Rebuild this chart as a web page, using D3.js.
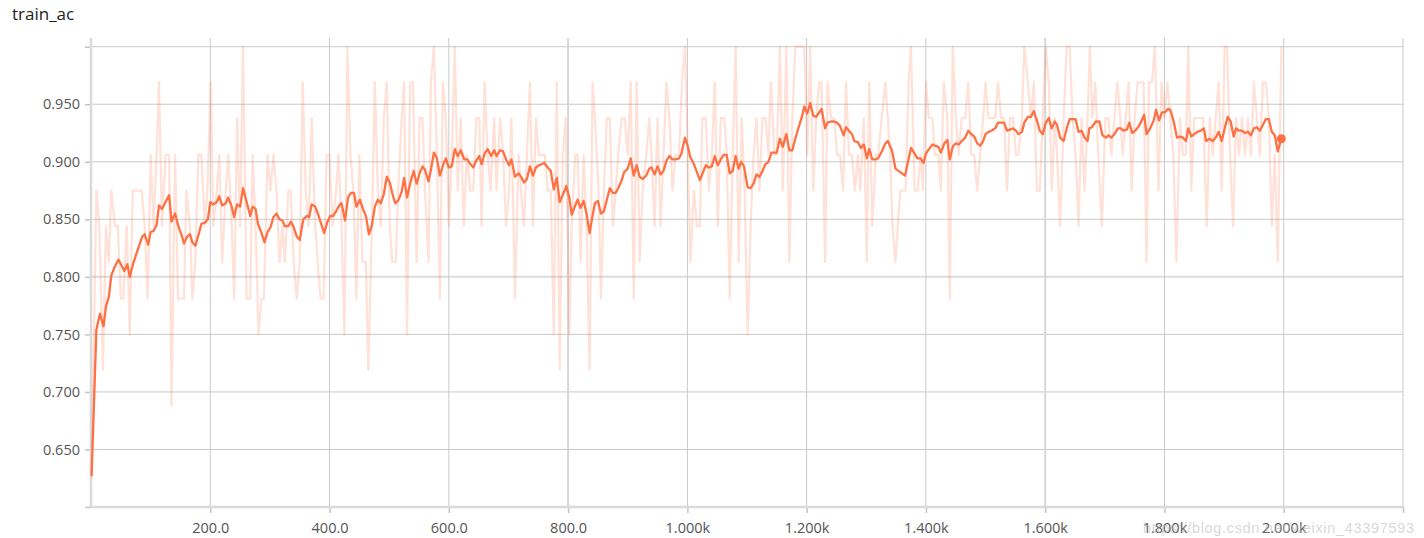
<!DOCTYPE html>
<html>
<head>
<meta charset="utf-8">
<script src="https://cdn.jsdelivr.net/npm/d3@7"></script>
<style>
    body { margin: 0; background: #fff; }
    #chart svg { display: block; }
</style>
</head>
<body>
<div id="chart"></div>
<script>
// Chart title and tick values
var chartTitle = "train_ac";
var watermark = "https://blog.csdn.net/weixin_43397593";
var yTicks = [0.6, 0.65, 0.7, 0.75, 0.8, 0.85, 0.9, 0.95, 1.0];
var yTickLabels = ["", "0.650", "0.700", "0.750", "0.800", "0.850", "0.900", "0.950", ""];
var xTicks = [200, 400, 600, 800, 1000, 1200, 1400, 1600, 1800, 2000, 2200];
var xTickLabels = ["200.0", "400.0", "600.0", "800.0", "1.000k", "1.200k", "1.400k", "1.600k", "1.800k", "2.000k", ""];

// Smoothed series, [step, value]
var smoothPoints = [
    [1, 0.627], [9, 0.754], [15, 0.768], [21, 0.757], [25, 0.774], [30, 0.783], [34, 0.801], [40, 0.809],
    [46, 0.815], [51, 0.810], [56, 0.805], [61, 0.811], [65, 0.800], [71, 0.812], [76, 0.820], [82, 0.829],
    [86, 0.835], [90, 0.837], [96, 0.828], [100, 0.839], [105, 0.840], [110, 0.845], [114, 0.862], [119, 0.859],
    [125, 0.865], [131, 0.871], [135, 0.848], [141, 0.855], [146, 0.845], [152, 0.836], [156, 0.829], [161, 0.835],
    [166, 0.837], [170, 0.830], [175, 0.827], [180, 0.836], [185, 0.846], [191, 0.847], [196, 0.850], [200, 0.865],
    [205, 0.863], [211, 0.865], [215, 0.870], [220, 0.862], [226, 0.864], [230, 0.869], [236, 0.861], [240, 0.852],
    [245, 0.863], [250, 0.861], [255, 0.877], [261, 0.865], [267, 0.853], [271, 0.861], [276, 0.859], [280, 0.846],
    [286, 0.838], [291, 0.830], [296, 0.839], [301, 0.843], [306, 0.852], [311, 0.855], [316, 0.850], [321, 0.849],
    [325, 0.844], [331, 0.844], [335, 0.848], [340, 0.843], [345, 0.835], [350, 0.832], [356, 0.850], [362, 0.853],
    [366, 0.852], [370, 0.863], [376, 0.861], [381, 0.854], [386, 0.846], [391, 0.838], [396, 0.847], [401, 0.853],
    [406, 0.853], [411, 0.857], [416, 0.862], [420, 0.864], [426, 0.849], [431, 0.869], [436, 0.873], [441, 0.873],
    [445, 0.861], [451, 0.867], [456, 0.859], [461, 0.853], [466, 0.837], [471, 0.845], [476, 0.861], [481, 0.867],
    [486, 0.864], [491, 0.872], [496, 0.887], [501, 0.882], [505, 0.873], [510, 0.864], [515, 0.866], [521, 0.874],
    [525, 0.886], [530, 0.869], [535, 0.881], [541, 0.892], [546, 0.881], [551, 0.890], [556, 0.896], [560, 0.893],
    [566, 0.883], [570, 0.893], [575, 0.908], [580, 0.903], [585, 0.888], [591, 0.898], [595, 0.903], [600, 0.895],
    [605, 0.896], [610, 0.911], [615, 0.905], [620, 0.910], [626, 0.902], [631, 0.902], [636, 0.898], [641, 0.895],
    [646, 0.901], [651, 0.905], [655, 0.898], [660, 0.907], [665, 0.911], [671, 0.905], [676, 0.910], [680, 0.905],
    [686, 0.910], [691, 0.909], [696, 0.902], [701, 0.897], [705, 0.902], [711, 0.887], [717, 0.890], [721, 0.887],
    [726, 0.882], [731, 0.885], [736, 0.896], [741, 0.888], [746, 0.895], [751, 0.897], [756, 0.898], [760, 0.899],
    [766, 0.895], [771, 0.892], [776, 0.876], [781, 0.886], [786, 0.865], [791, 0.871], [797, 0.879], [802, 0.869],
    [806, 0.854], [812, 0.862], [816, 0.867], [821, 0.860], [826, 0.866], [831, 0.855], [836, 0.838], [841, 0.853],
    [845, 0.864], [850, 0.866], [855, 0.855], [860, 0.857], [865, 0.867], [870, 0.877], [875, 0.873], [880, 0.873],
    [884, 0.877], [890, 0.884], [894, 0.891], [900, 0.894], [905, 0.903], [910, 0.888], [915, 0.897], [920, 0.887],
    [925, 0.885], [931, 0.888], [936, 0.894], [940, 0.895], [945, 0.889], [950, 0.896], [955, 0.889], [960, 0.892],
    [965, 0.901], [970, 0.905], [975, 0.902], [980, 0.902], [986, 0.903], [990, 0.907], [996, 0.921], [1000, 0.915],
    [1005, 0.904], [1011, 0.898], [1016, 0.891], [1021, 0.884], [1027, 0.892], [1031, 0.897], [1036, 0.895], [1041, 0.896],
    [1046, 0.905], [1051, 0.897], [1056, 0.902], [1061, 0.906], [1066, 0.906], [1071, 0.890], [1076, 0.892], [1081, 0.905],
    [1086, 0.894], [1090, 0.900], [1095, 0.896], [1101, 0.878], [1106, 0.877], [1111, 0.881], [1116, 0.889], [1121, 0.887],
    [1126, 0.892], [1131, 0.898], [1136, 0.900], [1141, 0.908], [1146, 0.908], [1150, 0.908], [1155, 0.920], [1160, 0.913],
    [1166, 0.924], [1171, 0.910], [1176, 0.910], [1181, 0.920], [1186, 0.929], [1192, 0.939], [1196, 0.948], [1201, 0.942],
    [1206, 0.951], [1211, 0.940], [1216, 0.939], [1221, 0.943], [1225, 0.946], [1231, 0.929], [1235, 0.934], [1241, 0.935],
    [1246, 0.935], [1251, 0.934], [1256, 0.931], [1262, 0.923], [1266, 0.930], [1271, 0.927], [1276, 0.924], [1280, 0.918],
    [1286, 0.917], [1291, 0.912], [1296, 0.915], [1301, 0.903], [1305, 0.911], [1310, 0.902], [1316, 0.902], [1320, 0.903],
    [1326, 0.909], [1332, 0.916], [1336, 0.918], [1343, 0.910], [1349, 0.894], [1357, 0.891], [1365, 0.888], [1375, 0.912],
    [1381, 0.907], [1386, 0.903], [1391, 0.903], [1396, 0.899], [1400, 0.907], [1405, 0.911], [1411, 0.915], [1415, 0.914],
    [1421, 0.913], [1425, 0.908], [1431, 0.916], [1436, 0.919], [1440, 0.902], [1445, 0.913], [1450, 0.916], [1455, 0.915],
    [1460, 0.918], [1466, 0.921], [1471, 0.927], [1476, 0.924], [1481, 0.922], [1486, 0.916], [1491, 0.914], [1496, 0.918],
    [1500, 0.924], [1505, 0.926], [1510, 0.927], [1516, 0.929], [1521, 0.934], [1525, 0.934], [1531, 0.934], [1536, 0.927],
    [1541, 0.928], [1546, 0.929], [1551, 0.927], [1555, 0.924], [1561, 0.926], [1565, 0.934], [1571, 0.939], [1576, 0.939],
    [1581, 0.944], [1586, 0.936], [1591, 0.927], [1596, 0.924], [1601, 0.934], [1606, 0.938], [1611, 0.929], [1616, 0.935],
    [1620, 0.932], [1625, 0.921], [1631, 0.918], [1636, 0.929], [1641, 0.937], [1646, 0.937], [1651, 0.937], [1656, 0.926],
    [1661, 0.927], [1666, 0.921], [1671, 0.918], [1674, 0.929], [1678, 0.930], [1685, 0.935], [1691, 0.935], [1696, 0.923],
    [1702, 0.921], [1706, 0.923], [1711, 0.921], [1716, 0.924], [1722, 0.929], [1727, 0.929], [1731, 0.927], [1737, 0.928],
    [1741, 0.934], [1746, 0.925], [1751, 0.927], [1757, 0.931], [1762, 0.936], [1766, 0.941], [1770, 0.924], [1776, 0.929],
    [1782, 0.936], [1786, 0.945], [1791, 0.936], [1796, 0.943], [1801, 0.943], [1806, 0.946], [1810, 0.945], [1815, 0.936],
    [1821, 0.921], [1826, 0.922], [1831, 0.921], [1836, 0.918], [1840, 0.929], [1845, 0.922], [1850, 0.924], [1855, 0.926],
    [1861, 0.927], [1866, 0.929], [1870, 0.918], [1875, 0.920], [1881, 0.918], [1886, 0.921], [1891, 0.926], [1896, 0.918],
    [1901, 0.929], [1906, 0.939], [1911, 0.935], [1916, 0.922], [1920, 0.929], [1925, 0.927], [1930, 0.927], [1935, 0.925],
    [1940, 0.926], [1945, 0.923], [1950, 0.929], [1955, 0.930], [1960, 0.927], [1965, 0.932], [1970, 0.937], [1975, 0.937],
    [1980, 0.926], [1985, 0.923], [1990, 0.909], [1996, 0.920]
];

// Raw series, [step, value]
var rawPoints = [
    [1, 0.625], [9, 0.875], [14, 0.844], [20, 0.719], [25, 0.844], [30, 0.813], [34, 0.875], [40, 0.844],
    [45, 0.844], [50, 0.781], [54, 0.781], [60, 0.844], [65, 0.750], [70, 0.875], [75, 0.875], [80, 0.875],
    [85, 0.875], [90, 0.844], [95, 0.781], [100, 0.906], [105, 0.844], [110, 0.906], [114, 0.969], [119, 0.844],
    [125, 0.906], [131, 0.906], [135, 0.688], [141, 0.906], [146, 0.781], [151, 0.781], [156, 0.781], [160, 0.875],
    [166, 0.844], [170, 0.781], [175, 0.813], [180, 0.906], [185, 0.906], [191, 0.844], [195, 0.875], [201, 0.969],
    [205, 0.844], [211, 0.875], [215, 0.906], [220, 0.813], [226, 0.875], [230, 0.906], [236, 0.844], [240, 0.781],
    [245, 0.938], [250, 0.844], [255, 1.000], [261, 0.781], [267, 0.781], [271, 0.906], [276, 0.844], [281, 0.750],
    [286, 0.781], [290, 0.781], [296, 0.906], [301, 0.875], [306, 0.906], [311, 0.875], [316, 0.813], [321, 0.844],
    [325, 0.813], [331, 0.875], [335, 0.875], [340, 0.813], [345, 0.781], [350, 0.813], [355, 0.969], [360, 0.875],
    [365, 0.844], [370, 0.938], [376, 0.844], [380, 0.813], [385, 0.781], [390, 0.781], [395, 0.906], [400, 0.906],
    [405, 0.844], [411, 0.875], [415, 0.906], [420, 0.844], [425, 0.750], [430, 1.000], [435, 0.906], [440, 0.875],
    [445, 0.781], [450, 0.906], [455, 0.813], [461, 0.813], [465, 0.719], [471, 0.844], [476, 0.969], [481, 0.875],
    [486, 0.844], [491, 0.938], [496, 0.969], [501, 0.844], [505, 0.813], [511, 0.813], [515, 0.875], [521, 0.938],
    [525, 0.969], [530, 0.750], [535, 0.969], [540, 0.969], [546, 0.813], [551, 0.938], [556, 0.938], [560, 0.875],
    [566, 0.813], [570, 0.969], [575, 1.000], [580, 0.906], [585, 0.781], [590, 0.969], [595, 0.938], [600, 0.844],
    [605, 0.906], [610, 1.000], [615, 0.875], [620, 0.938], [625, 0.844], [630, 0.906], [636, 0.875], [641, 0.875],
    [646, 0.938], [651, 0.938], [655, 0.844], [660, 0.969], [665, 0.906], [670, 0.875], [676, 0.938], [680, 0.875],
    [686, 0.938], [691, 0.906], [696, 0.844], [701, 0.875], [705, 0.938], [711, 0.781], [717, 0.906], [721, 0.875],
    [726, 0.844], [731, 0.906], [736, 0.969], [741, 0.844], [746, 0.938], [751, 0.906], [756, 0.906], [761, 0.906],
    [766, 0.875], [771, 0.875], [776, 0.750], [781, 0.969], [786, 0.719], [791, 0.906], [796, 0.938], [802, 0.750],
    [806, 0.844], [812, 0.906], [816, 0.906], [821, 0.813], [826, 0.906], [831, 0.844], [836, 0.719], [841, 0.969],
    [845, 0.938], [851, 0.875], [855, 0.781], [860, 0.875], [865, 0.938], [870, 0.938], [875, 0.844], [880, 0.875],
    [884, 0.906], [890, 0.938], [895, 0.938], [900, 0.906], [905, 0.969], [910, 0.781], [915, 0.969], [920, 0.813],
    [925, 0.875], [931, 0.906], [936, 0.938], [940, 0.906], [945, 0.844], [950, 0.938], [955, 0.844], [960, 0.906],
    [965, 0.969], [970, 0.938], [975, 0.875], [980, 0.906], [986, 0.906], [991, 0.969], [996, 1.000], [1001, 0.906],
    [1005, 0.813], [1011, 0.875], [1016, 0.844], [1021, 0.844], [1025, 0.938], [1031, 0.938], [1036, 0.875], [1041, 0.906],
    [1046, 0.969], [1051, 0.844], [1056, 0.938], [1062, 0.938], [1066, 0.906], [1071, 0.781], [1076, 0.906], [1081, 1.000],
    [1086, 0.813], [1091, 0.938], [1096, 0.875], [1101, 0.750], [1106, 0.844], [1111, 0.906], [1116, 0.938], [1121, 0.875],
    [1126, 0.938], [1131, 0.938], [1136, 0.906], [1140, 0.969], [1146, 0.906], [1150, 0.906], [1155, 1.000], [1160, 0.875],
    [1166, 1.000], [1171, 0.813], [1176, 0.938], [1181, 1.000], [1186, 1.000], [1191, 1.000], [1196, 1.000], [1201, 0.906],
    [1206, 1.000], [1211, 0.875], [1216, 0.938], [1221, 0.969], [1225, 0.969], [1231, 0.813], [1235, 0.969], [1241, 0.938],
    [1246, 0.938], [1251, 0.906], [1256, 0.906], [1261, 0.875], [1266, 0.969], [1271, 0.906], [1276, 0.906], [1281, 0.875],
    [1286, 0.906], [1290, 0.875], [1296, 0.938], [1301, 0.813], [1305, 0.969], [1310, 0.844], [1316, 0.906], [1320, 0.906],
    [1326, 0.938], [1332, 0.969], [1336, 0.938], [1340, 0.906], [1344, 0.844], [1349, 0.813], [1357, 0.875], [1362, 0.875],
    [1366, 0.875], [1371, 0.969], [1375, 1.000], [1381, 0.875], [1386, 0.875], [1391, 0.906], [1395, 0.875], [1400, 0.969],
    [1405, 0.938], [1411, 0.938], [1415, 0.906], [1421, 0.906], [1425, 0.875], [1430, 0.969], [1436, 0.938], [1440, 0.781],
    [1445, 1.000], [1450, 0.938], [1455, 0.906], [1460, 0.938], [1466, 0.938], [1471, 0.969], [1476, 0.906], [1481, 0.906],
    [1486, 0.875], [1491, 0.906], [1496, 0.938], [1500, 0.969], [1505, 0.938], [1510, 0.938], [1516, 0.938], [1521, 0.969],
    [1526, 0.938], [1531, 0.938], [1536, 0.875], [1541, 0.938], [1546, 0.938], [1551, 0.906], [1555, 0.906], [1561, 0.938],
    [1565, 1.000], [1571, 0.969], [1576, 0.938], [1581, 0.969], [1586, 0.875], [1591, 0.875], [1596, 0.938], [1601, 1.000],
    [1606, 0.969], [1611, 0.875], [1616, 0.938], [1620, 0.906], [1625, 0.844], [1631, 0.938], [1636, 1.000], [1641, 1.000],
    [1646, 0.938], [1651, 0.906], [1656, 0.844], [1661, 0.938], [1666, 0.875], [1671, 0.938], [1675, 1.000], [1679, 0.938],
    [1684, 0.969], [1689, 0.906], [1695, 0.844], [1701, 0.938], [1706, 0.938], [1711, 0.906], [1716, 0.938], [1721, 0.969],
    [1726, 0.938], [1730, 0.906], [1735, 0.938], [1740, 0.969], [1745, 0.875], [1750, 0.938], [1755, 0.969], [1760, 0.969],
    [1765, 0.969], [1770, 0.813], [1774, 0.969], [1779, 0.969], [1784, 1.000], [1790, 0.875], [1795, 0.969], [1800, 0.938],
    [1805, 0.969], [1810, 0.938], [1815, 0.906], [1820, 0.813], [1826, 0.938], [1831, 0.906], [1836, 0.906], [1840, 1.000],
    [1845, 0.875], [1850, 0.938], [1855, 0.938], [1860, 0.938], [1865, 0.938], [1871, 0.844], [1876, 0.938], [1881, 0.906],
    [1886, 0.938], [1891, 0.969], [1896, 0.875], [1901, 1.000], [1905, 1.000], [1910, 0.906], [1915, 0.844], [1920, 0.938],
    [1925, 0.906], [1930, 0.938], [1935, 0.906], [1940, 0.938], [1945, 0.906], [1950, 0.969], [1955, 0.938], [1960, 0.906],
    [1965, 0.969], [1970, 0.969], [1975, 0.938], [1980, 0.844], [1985, 0.906], [1990, 0.813], [1996, 1.000]
];

// Set chart dimensions
var width = 1424;
var height = 538;
var plot = { left: 91, right: 1403, top: 38, bottom: 507 };
var lineColor = "#ff7043";

var svg = d3.select("#chart").append("svg")
    .attr("width", width)
    .attr("height", height)
    .style("font-family", "'Open Sans', sans-serif");

// Create x and y scales
var xScale = d3.scaleLinear()
    .domain([0, 2200])
    .range([plot.left, plot.right]);

var yScale = d3.scaleLinear()
    .domain([0.6, 1.0])
    .range([plot.bottom, 46.7]);

// Title
svg.append("text")
    .attr("x", 12)
    .attr("y", 20)
    .style("font-size", "17px")
    .style("fill", "#212121")
    .text(chartTitle);

// Grid lines
svg.append("g")
    .attr("class", "grid-y")
    .selectAll("line")
    .data(yTicks.filter(d => d > 0.6))
    .enter().append("line")
    .attr("x1", plot.left)
    .attr("x2", plot.right)
    .attr("y1", d => yScale(d))
    .attr("y2", d => yScale(d))
    .style("stroke", d => d === 0.8 ? "#dcdcdc" : "#c9c9c9")
    .style("stroke-width", d => d === 0.8 ? 2 : 1);

svg.append("g")
    .attr("class", "grid-x")
    .selectAll("line")
    .data(xTicks)
    .enter().append("line")
    .attr("x1", d => xScale(d))
    .attr("x2", d => xScale(d))
    .attr("y1", plot.top)
    .attr("y2", plot.bottom)
    .style("stroke", d => (d === 800 || d === 1600) ? "#d6d6d6" : "#c9c9c9")
    .style("stroke-width", d => (d === 800 || d === 1600) ? 2 : 1);

// Axes
var yAxis = d3.axisLeft(yScale)
    .tickValues(yTicks)
    .tickSize(6)
    .tickPadding(5)
    .tickFormat((d, i) => yTickLabels[i]);

var xAxis = d3.axisBottom(xScale)
    .tickValues(xTicks)
    .tickSize(6)
    .tickPadding(10)
    .tickFormat((d, i) => xTickLabels[i]);

var gy = svg.append("g")
    .attr("class", "y axis")
    .attr("transform", "translate(" + plot.left + ",0)")
    .call(yAxis);

var gx = svg.append("g")
    .attr("class", "x axis")
    .attr("transform", "translate(0," + plot.bottom + ")")
    .call(xAxis);

[gx, gy].forEach(function (g) {
    g.select(".domain").remove();
    g.selectAll(".tick line").style("stroke", "#c4c4c4").style("stroke-width", 1.5);
    g.selectAll(".tick text")
        .style("font-size", "14.5px")
        .style("font-family", "'Open Sans', sans-serif")
        .style("fill", "#555");
});

// Axis lines
svg.append("line")
    .attr("x1", plot.left).attr("x2", plot.left)
    .attr("y1", plot.top).attr("y2", plot.bottom)
    .style("stroke", "#dadada")
    .style("stroke-width", 2.5);

svg.append("line")
    .attr("x1", plot.left).attr("x2", plot.right)
    .attr("y1", plot.bottom).attr("y2", plot.bottom)
    .style("stroke", "#dadada")
    .style("stroke-width", 2.5);

// Lines
var line = d3.line()
    .x(d => xScale(d[0]))
    .y(d => yScale(d[1]));

svg.append("path")
    .datum(rawPoints)
    .attr("d", line)
    .style("fill", "none")
    .style("stroke", lineColor)
    .style("stroke-opacity", 0.21)
    .style("stroke-width", 2.2)
    .style("stroke-linejoin", "round");

svg.append("path")
    .datum(smoothPoints)
    .attr("d", line)
    .style("fill", "none")
    .style("stroke", lineColor)
    .style("stroke-width", 2.3)
    .style("stroke-linejoin", "round");

// End point dot
var last = smoothPoints[smoothPoints.length - 1];
svg.append("circle")
    .attr("cx", xScale(last[0]))
    .attr("cy", yScale(last[1]))
    .attr("r", 4.5)
    .style("fill", lineColor);

// Watermark
svg.append("text")
    .attr("x", 1143)
    .attr("y", 533)
    .attr("textLength", 271)
    .style("font-family", "'Liberation Sans', Arial, sans-serif")
    .style("font-size", "14.5px")
    .style("fill", "#bdbdbd")
    .style("fill-opacity", 0.6)
    .text(watermark);
</script>
</body>
</html>
